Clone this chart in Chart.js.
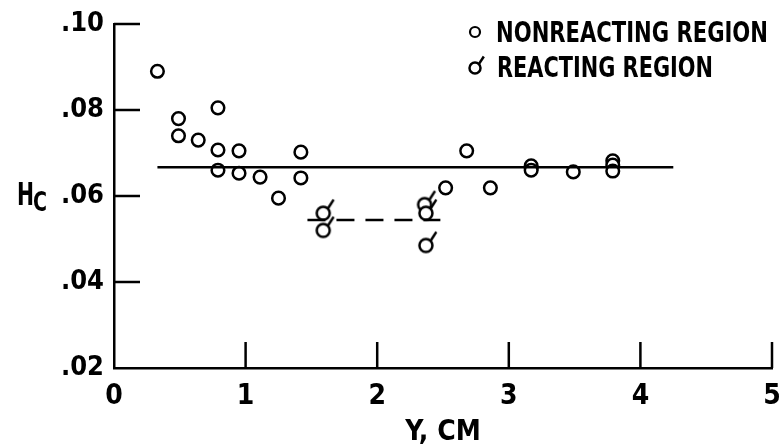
<!DOCTYPE html>
<html>
<head>
<meta charset="utf-8">
<script src="https://cdn.jsdelivr.net/npm/chart.js@4.4.0/dist/chart.umd.min.js"></script>
<style>
  html, body { margin: 0; padding: 0; background: #fff; }
  #wrap { width: 784px; height: 447px; }
</style>
</head>
<body>
<div id="wrap"><canvas id="chart" width="784" height="447"></canvas></div>
<script>
// values: Y (cm) and H_c
const nonreactingX = [0.33, 0.49, 0.49, 0.64, 0.79, 0.79, 0.79, 0.95, 0.95, 1.11, 1.25, 1.42, 1.42,
                      2.52, 2.68, 2.86, 3.17, 3.17, 3.17, 3.49, 3.79, 3.79, 3.79];
const nonreactingY = [0.089, 0.078, 0.074, 0.073, 0.0805, 0.0707, 0.066, 0.0705, 0.0653, 0.0644, 0.0595, 0.0702, 0.0642,
                      0.0619, 0.0705, 0.0619, 0.0665, 0.067, 0.066, 0.0656, 0.0682, 0.0672, 0.0658];
const reactingX = [1.59, 1.59, 2.36, 2.37, 2.37];
const reactingY = [0.056, 0.052, 0.058, 0.056, 0.0485];

// fitted levels
const solidLineX = [0.33, 4.25];
const solidLineY = [0.0667, 0.0667];
const dashedLineX = [1.47, 2.48];
const dashedLineY = [0.0544, 0.0544];

const xTicks = [0, 1, 2, 3, 4, 5];
const yTicks = [0.02, 0.04, 0.06, 0.08, 0.10];

const FONT = "'DejaVu Sans Condensed', 'Liberation Sans Narrow', 'DejaVu Sans', sans-serif";

function toPoints(xs, ys) {
  return xs.map((x, i) => ({ x: x, y: ys[i] }));
}

// circle with a little flag, the "reacting" symbol
function makeFlagMarker(r) {
  const c = document.createElement('canvas');
  c.width = 36; c.height = 36;
  const g = c.getContext('2d');
  g.strokeStyle = '#000';
  g.lineWidth = 2.5;
  g.fillStyle = '#fff';
  g.beginPath();
  g.arc(18, 18, r, 0, Math.PI * 2);
  g.fill();
  g.stroke();
  g.beginPath();
  g.moveTo(18 + r * 0.7, 18 - r * 0.7);
  g.lineTo(18 + r * 1.6, 18 - r * 2.1);
  g.stroke();
  return c;
}
const flagMarker = makeFlagMarker(6.5);
const flagMarkerSmall = makeFlagMarker(5.5);

const decor = {
  id: 'decor',
  afterDraw(chart) {
    const ctx = chart.ctx;
    const xs = chart.scales.x, ys = chart.scales.y;
    const area = chart.chartArea;
    ctx.save();
    ctx.strokeStyle = '#000';
    ctx.lineWidth = 2.5;
    // inward tick marks
    yTicks.slice(1).forEach(v => {
      const py = ys.getPixelForValue(v);
      ctx.beginPath();
      ctx.moveTo(area.left, py);
      ctx.lineTo(area.left + 26, py);
      ctx.stroke();
    });
    xTicks.slice(1).forEach(v => {
      const px = xs.getPixelForValue(v);
      ctx.beginPath();
      ctx.moveTo(px, area.bottom);
      ctx.lineTo(px, area.bottom - 26);
      ctx.stroke();
    });

    ctx.fillStyle = '#000';
    ctx.textBaseline = 'alphabetic';
    // y axis name H_C
    ctx.font = 'bold 32px ' + FONT;
    ctx.fillText('H', 17, 205, 17);
    ctx.font = 'bold 27px ' + FONT;
    ctx.fillText('C', 33, 211, 14);

    // legend
    const ds = chart.data.datasets;
    ctx.beginPath();
    ctx.arc(475, 32, 5, 0, Math.PI * 2);
    ctx.lineWidth = 2.2;
    ctx.stroke();
    ctx.drawImage(flagMarkerSmall, 475 - 18, 68 - 18);
    ctx.font = 'bold 28px ' + FONT;
    ctx.fillText(ds[2].label, 496, 42, 272);
    ctx.fillText(ds[3].label, 497, 77, 216);
    ctx.restore();
  }
};

new Chart(document.getElementById('chart'), {
  type: 'scatter',
  data: {
    datasets: [
      {
        label: 'level',
        data: toPoints(solidLineX, solidLineY),
        showLine: true,
        borderColor: '#000',
        borderWidth: 2.5,
        pointRadius: 0
      },
      {
        label: 'reacting level',
        data: toPoints(dashedLineX, dashedLineY),
        showLine: true,
        borderColor: '#000',
        borderWidth: 2.5,
        borderDash: [18, 11],
        pointRadius: 0
      },
      {
        label: 'NONREACTING REGION',
        data: toPoints(nonreactingX, nonreactingY),
        pointStyle: 'circle',
        pointRadius: 6.3,
        borderWidth: 2.5,
        borderColor: '#000',
        backgroundColor: '#fff'
      },
      {
        label: 'REACTING REGION',
        data: toPoints(reactingX, reactingY),
        pointStyle: flagMarker,
        pointRadius: 7
      }
    ]
  },
  options: {
    responsive: false,
    animation: false,
    events: [],
    layout: { padding: { left: 0, top: 24, right: 12, bottom: 0 } },
    plugins: {
      legend: { display: false },
      tooltip: { enabled: false }
    },
    scales: {
      x: {
        type: 'linear',
        min: 0,
        max: 5,
        afterFit: s => { s.height = 79; s.paddingLeft = 0; s.paddingRight = 0; },
        afterBuildTicks: s => { s.ticks = xTicks.map(v => ({ value: v })); },
        grid: { display: false, drawTicks: false },
        border: { display: true, color: '#000', width: 2.5 },
        ticks: {
          color: '#000',
          padding: 12,
          font: { family: FONT, size: 28, weight: 'bold' }
        },
        title: {
          display: true,
          text: 'Y, CM',
          color: '#000',
          padding: 0,
          font: { family: FONT, size: 28, weight: 'bold', lineHeight: 1.0 }
        }
      },
      y: {
        type: 'linear',
        min: 0.02,
        max: 0.10,
        afterFit: s => { s.width = 114; s.paddingTop = 0; s.paddingBottom = 0; },
        afterBuildTicks: s => { s.ticks = yTicks.map(v => ({ value: v })); },
        grid: { display: false, drawTicks: false },
        border: { display: true, color: '#000', width: 2.5 },
        ticks: {
          color: '#000',
          padding: 10,
          font: { family: FONT, size: 27, weight: 'bold' },
          callback: v => Number(v).toFixed(2).slice(1)
        }
      }
    }
  },
  plugins: [decor]
});
</script>
</body>
</html>
